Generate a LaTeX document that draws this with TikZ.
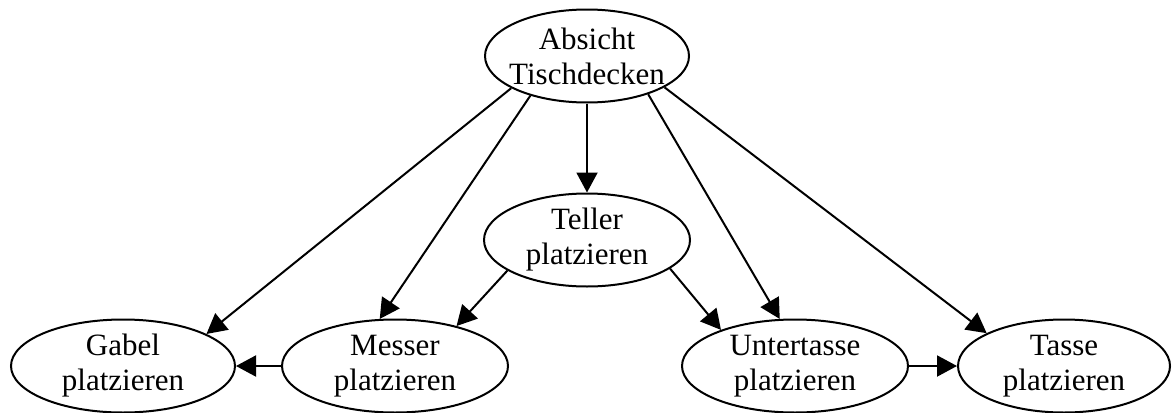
\documentclass[tikz,border=0pt]{standalone}
\usepackage{fontspec}
\setmainfont{Liberation Serif}
\usetikzlibrary{shapes.geometric,arrows.meta}
\begin{document}
\begin{tikzpicture}[x=0.5pt,y=-0.5pt,
        task/.style={draw,ellipse,line width=1pt,inner sep=0pt,minimum height=46.5pt},
        txt/.style={font=\fontsize{15.5}{17.5}\selectfont,align=center},
        dep/.style={line width=1pt,-{Triangle[length=10pt,width=10.5pt]}}]
                    \useasboundingbox (0,0) rectangle (1176,412);

                    \node[task,minimum width=102pt,label={[txt]center:Absicht\\Tischdecken}] (abs) at (587,56) {};
                    \node[task,minimum width=103pt,label={[txt]center:Teller\\platzieren}] (tel) at (587,240) {};
                    \node[task,minimum width=112pt,label={[txt]center:Gabel\\platzieren}] (gab) at (123,366) {};
                    \node[task,minimum width=113pt,label={[txt]center:Messer\\platzieren}] (mes) at (395,366) {};
                    \node[task,minimum width=113pt,label={[txt]center:Untertasse\\platzieren}] (unt) at (795,366) {};
                    \node[task,minimum width=106pt,label={[txt]center:Tasse\\platzieren}] (tas) at (1064,366) {};

                    \draw[dep] (abs.203)--(gab.21);
                    \draw[dep] (abs.215)--(mes.108);
                    \draw[dep] (abs.south)--(tel.north);
                    \draw[dep] (abs.328)--(unt.108);
                    \draw[dep] (abs.338)--(tas.157);
                    \draw[dep] (tel.201)--(mes.33);
                    \draw[dep] (tel.341)--(unt.154);
                    \draw[dep] (mes.west)--(gab.east);
                    \draw[dep] (unt.east)--(tas.west);
                \end{tikzpicture}
\end{document}
